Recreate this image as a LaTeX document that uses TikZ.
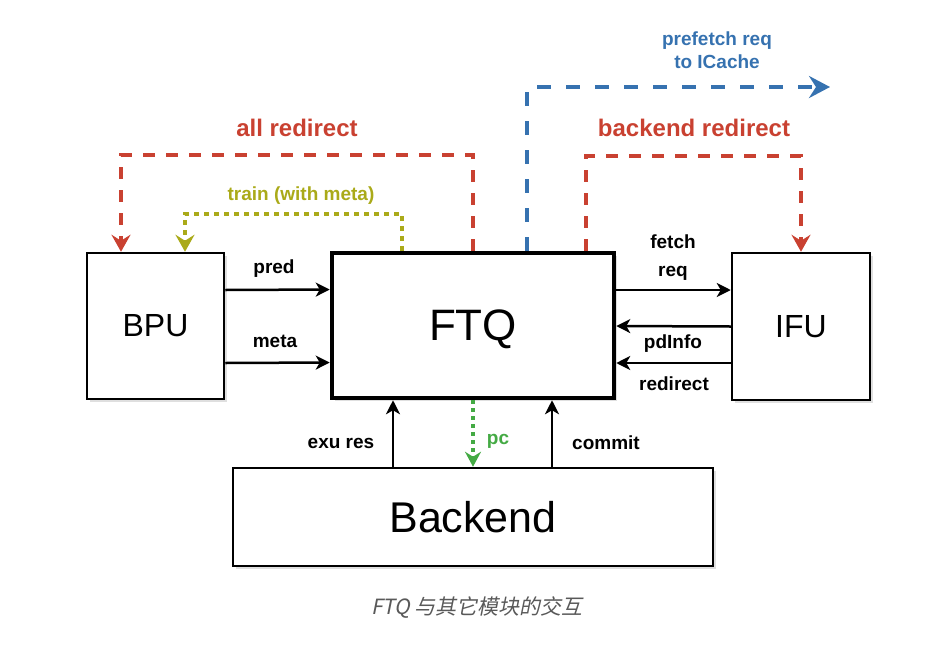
\documentclass[tikz,border=0pt]{standalone}
\usepackage{fontspec}
\setmainfont{Liberation Sans}
\newfontfamily\cjk[FakeSlant=0.2]{Noto Sans CJK SC}
\usetikzlibrary{arrows.meta,calc,shadows}

\definecolor{redir}{RGB}{201,65,49}
\definecolor{prefetch}{RGB}{54,114,176}
\definecolor{train}{RGB}{170,170,25}
\definecolor{pcgreen}{RGB}{68,170,68}

\begin{document}
\begin{tikzpicture}[x=1pt,y=-1pt]
        \tikzstyle{block}=[draw, line width=2.5pt, fill=white, inner sep=0pt, drop shadow={shadow xshift=3pt, shadow yshift=-3pt, opacity=0.25}]
        \tikzstyle{link}=[line width=2.5pt, -{Stealth[length=14pt, width=14pt, inset=4pt]}]
        \tikzstyle{lbl}=[font=\fontsize{19}{28}\selectfont\bfseries, align=center]
        \tikzstyle{biglbl}=[font=\fontsize{24}{28}\selectfont\bfseries]
        \tikzstyle{redline}=[redir, line width=3.5pt, dash pattern=on 12pt off 11pt, -{Stealth[length=17pt, width=19pt, inset=6pt]}]

        \useasboundingbox (0,0) rectangle (931,648);

        % Draw blocks
        \node[block, minimum width=137, minimum height=146, font=\fontsize{32}{36}\selectfont] (BPU) at (155.5,326) {BPU};
        \node[block, line width=4.5pt, minimum width=282, minimum height=145, text depth=0pt, font=\fontsize{44}{48}\selectfont] (FTQ) at (473,325.5) {FTQ};
        \node[block, minimum width=138, minimum height=147, font=\fontsize{32}{36}\selectfont] (IFU) at (801,326.5) {IFU};
        \node[block, minimum width=480, minimum height=98, font=\fontsize{43}{48}\selectfont] (Backend) at (473,517) {Backend};

        % Add BPU to FTQ links
        \draw[link] ($(BPU.east)+(0,-36)$) -- ($(FTQ.west)+(0,-36)$);
        \draw[link] ($(BPU.east)+(0,37)$) -- ($(FTQ.west)+(0,37)$);
        \node[lbl] (predlbl) at (274,269) {pred};
        \node[lbl] (metalbl) at (275,341) {meta};

        % Add FTQ and IFU links
        \draw[link] ($(FTQ.east)+(0,-35.5)$) -- ($(IFU.west)+(0,-36.5)$);
        \draw[link] ($(IFU.west)+(0,0)$) -- ($(FTQ.east)+(0,0.5)$);
        \draw[link] ($(IFU.west)+(0,36.5)$) -- ($(FTQ.east)+(0,37.5)$);
        \node[lbl] (fetchlbl) at (673,258) {fetch\\req};
        \node[lbl] (pdlbl) at (673,344) {pdInfo};
        \node[lbl] (redirlbl) at (674,384) {redirect};

        % Add Backend links
        \draw[link] ([xshift=-80pt]Backend.north) -- ([xshift=-80pt]FTQ.south);
        \draw[link] ([xshift=79pt]Backend.north) -- ([xshift=79pt]FTQ.south);
        \draw[pcgreen, line width=3.5pt, dash pattern=on 4pt off 4pt, -{Stealth[length=15pt, width=16pt, inset=5pt]}] (FTQ.south) -- (Backend.north);
        \node[lbl] (exulbl) at (341,443) {exu res};
        \node[lbl] (commitlbl) at (606,443) {commit};
        \node[lbl, pcgreen] (pclbl) at (498,441) {pc};

        % Add redirect and train paths above
        \coordinate (allTop) at (0,155);
        \coordinate (trainTop) at (0,214);
        \coordinate (beTop) at (0,156);
        \coordinate (pfEnd) at (830,87);
        \draw[redline] (FTQ.north) -- (FTQ.north |- allTop) -| ([xshift=-34.5pt]BPU.north);
        \node[biglbl, redir] (alllbl) at (297,128) {all redirect};
        \draw[train, line width=4.5pt, dash pattern=on 5pt off 5pt, -{Stealth[length=17pt, width=19pt, inset=6pt]}] ([xshift=-71pt]FTQ.north) -- ([xshift=-71pt]FTQ.north |- trainTop) -| ([xshift=29.5pt]BPU.north);
        \node[lbl, train] (trainlbl) at (301,196) {train (with meta)};
        \draw[redline] ([xshift=113pt]FTQ.north) -- ([xshift=113pt]FTQ.north |- beTop) -| (IFU.north);
        \node[biglbl, redir] (belbl) at (694,128) {backend redirect};
        \draw[prefetch, line width=4pt, dash pattern=on 14pt off 15pt, -{Stealth[length=21pt, width=22pt, inset=7pt]}] ([xshift=54pt]FTQ.north) |- (pfEnd);
        \node[lbl, prefetch, font=\fontsize{19}{23}\selectfont\bfseries] (pflbl) at (717,50) {prefetch req\\to ICache};

        % Caption
        \node[font=\cjk\fontsize{21}{25}\selectfont, text=black!65] (caption) at (477,608) {FTQ 与其它模块的交互};
\end{tikzpicture}
\end{document}
